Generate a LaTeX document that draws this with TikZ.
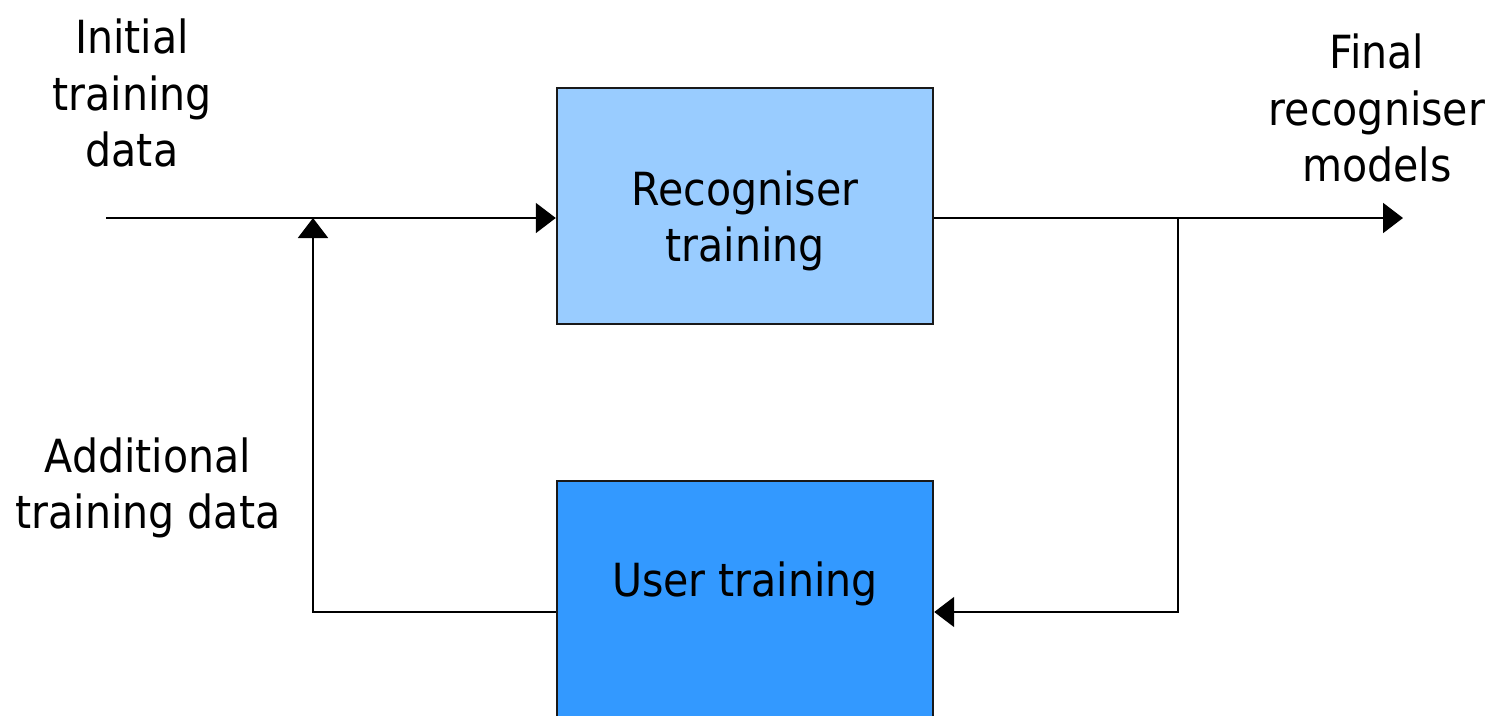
\documentclass[tikz,border=0pt]{standalone}
\usepackage{fontspec}
\setmainfont{DejaVu Sans Condensed}
\usetikzlibrary{arrows.meta,calc}
\definecolor{lightbox}{HTML}{99CCFF}
\definecolor{darkbox}{HTML}{3399FF}
\tikzset{
    blockbox/.style={draw=black!90,line width=0.7pt,minimum width=3.76cm,minimum height=2.36cm,inner sep=0pt},
    flow/.style={line width=0.6pt,-{Triangle[length=0.2cm,width=0.3cm]}},
    caption/.style={align=center,font=\fontsize{13}{16}\selectfont}
}
\begin{document}
\begin{tikzpicture}
        \useasboundingbox (0,0) rectangle (14.94,7.15);

        \node[blockbox,fill=lightbox] (rec) at (7.45, 5.09) {};
        \node[blockbox,fill=darkbox] (user) at (7.45, 1.16) {};

        \node[caption] (rectext) at (7.45, 4.94) {Recogniser\\training};
        \node[caption] (usertext) at (7.45, 1.31) {User training};

        \node[caption] (initial) at (1.32, 6.22) {Initial\\training\\data};
        \node[caption] (final) at (13.77, 6.07) {Final\\recogniser\\models};
        \node[caption] (additional) at (1.48, 2.27) {Additional\\training data};

        \coordinate (in) at (1.06, 4.97);
        \coordinate (out) at (14.03, 4.97);
        \coordinate (split) at (11.78, 4.97);
        \coordinate (back) at (11.78, 1.03);
        \coordinate (merge) at (3.13, 4.97);

        \draw[flow] (in) -- (in -| rec.west);
        \draw[flow] (in -| rec.east) -- (out);
        \draw[flow] (split) -- (back) -- (back -| user.east);
        \draw[flow] (back -| user.west) -- (back -| merge) -- (merge);

    \end{tikzpicture}
\end{document}
